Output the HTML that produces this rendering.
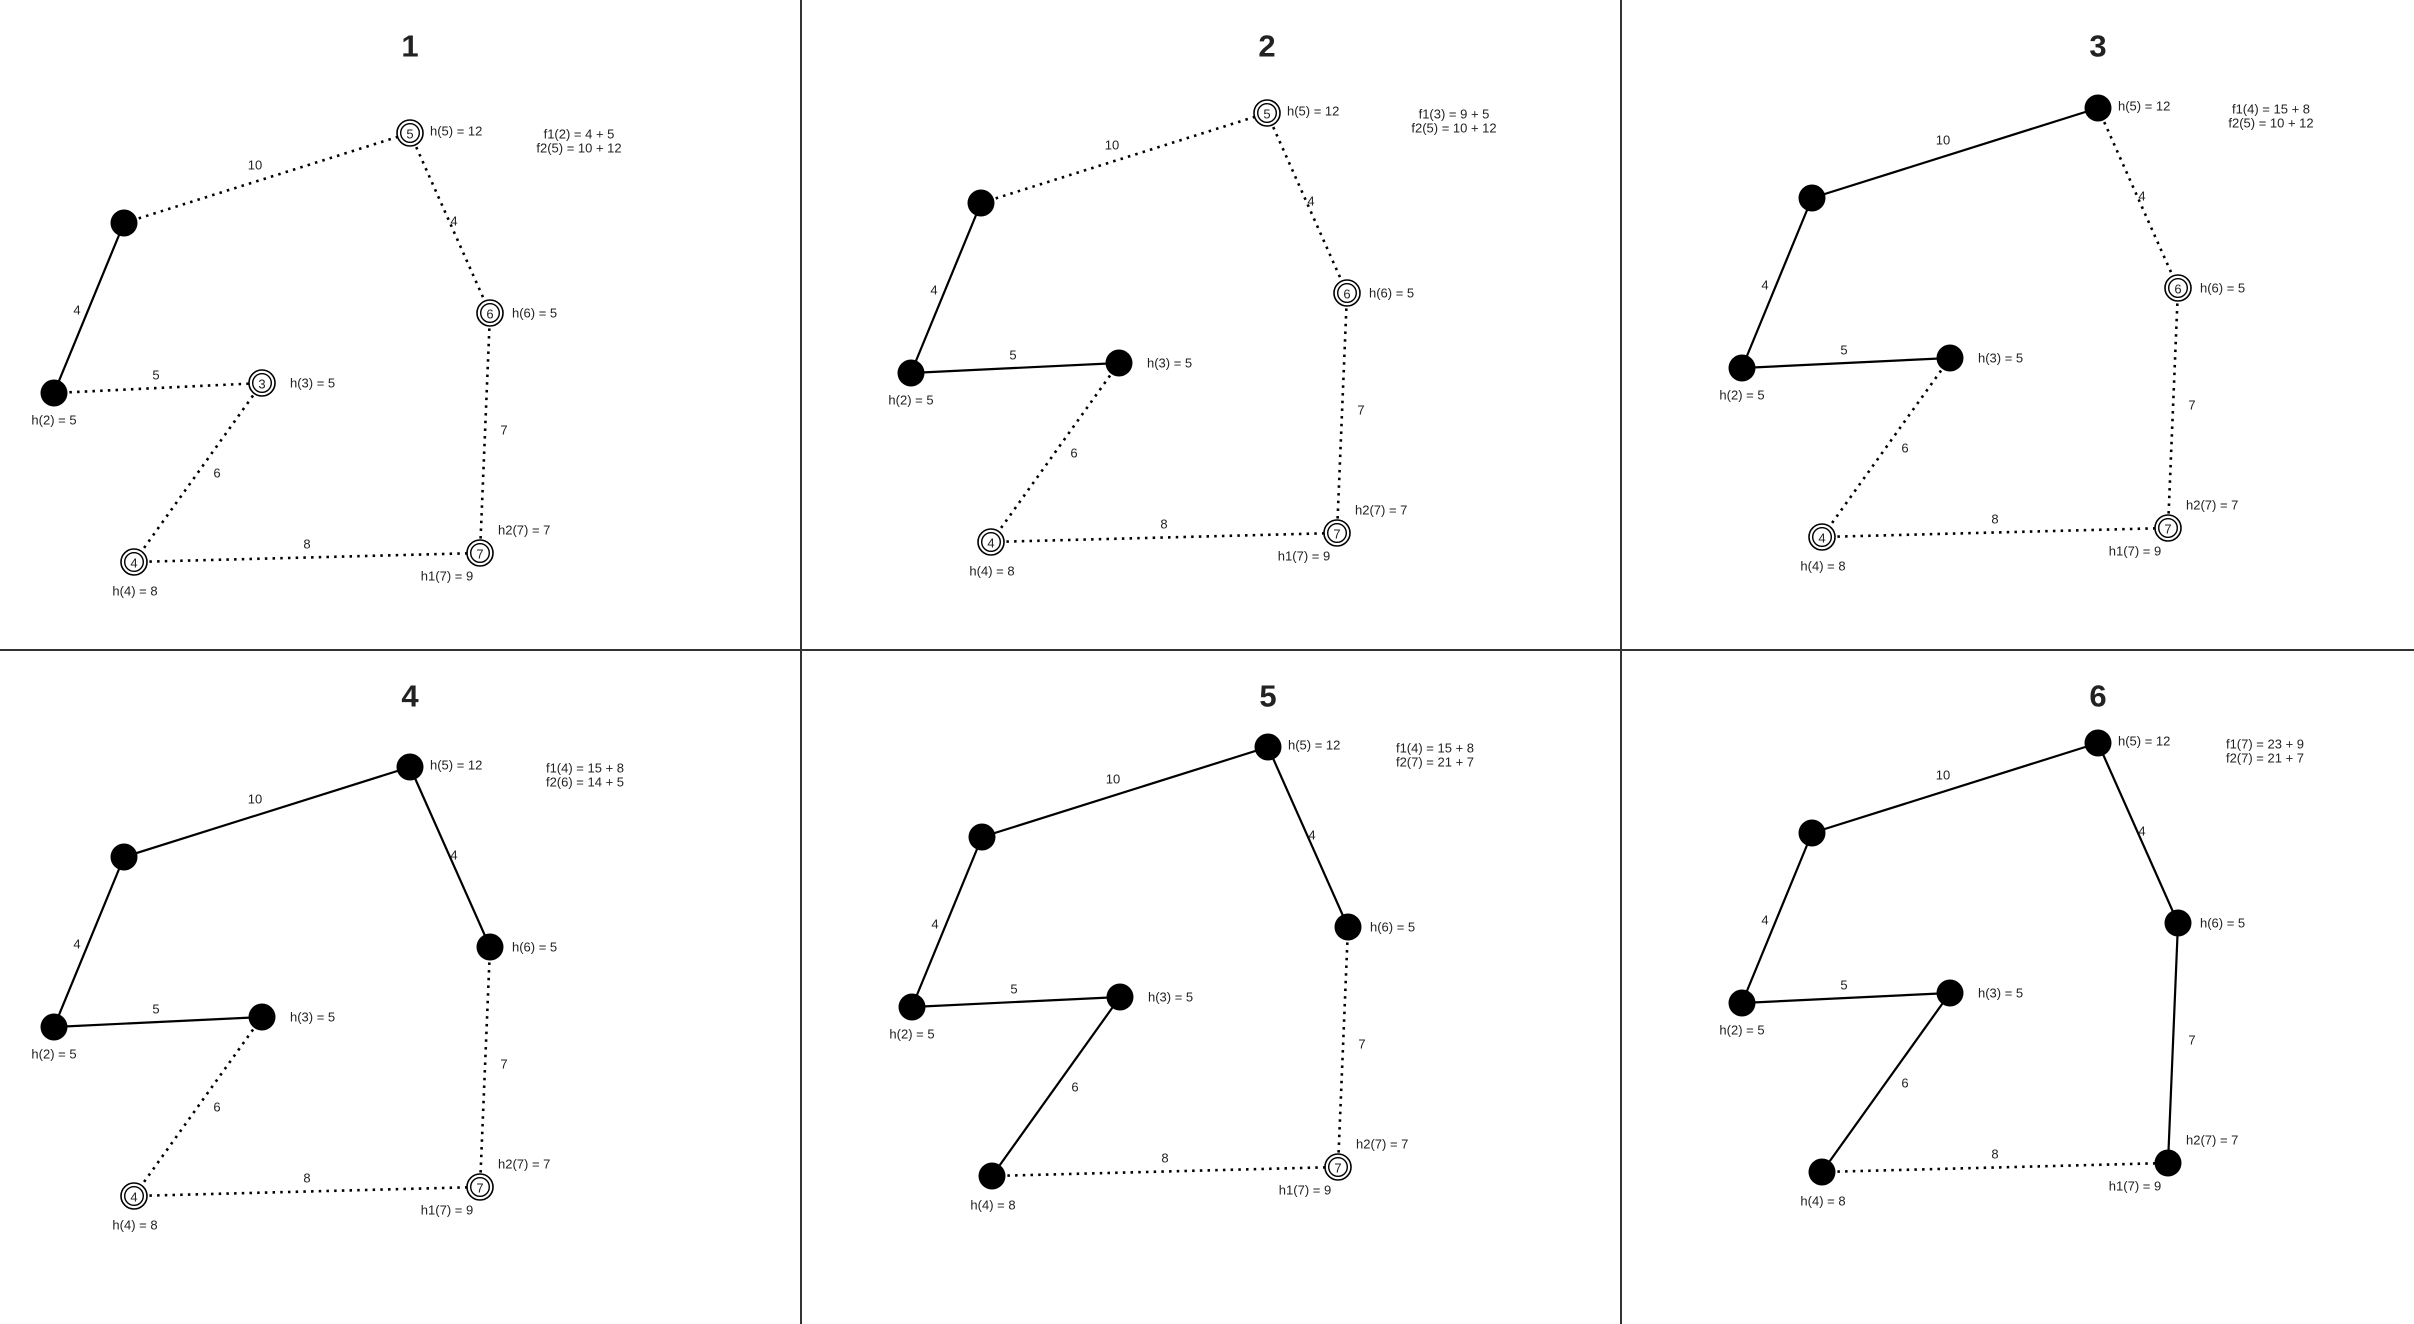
<!DOCTYPE html>
<html><head><meta charset="utf-8"><style>
html,body{margin:0;padding:0;background:#fff;}
svg{display:block;font-family:"Liberation Sans",Arial,sans-serif;}
</style></head><body>
<svg id="chart" width="2414" height="1324" viewBox="0 0 2414 1324" xmlns="http://www.w3.org/2000/svg">
<rect width="2414" height="1324" fill="#fff"/>
<line x1="801" y1="0" x2="801" y2="1324" stroke="#333" stroke-width="2"/>
<line x1="1621" y1="0" x2="1621" y2="1324" stroke="#333" stroke-width="2"/>
<line x1="0" y1="650" x2="2414" y2="650" stroke="#333" stroke-width="2"/>
</svg>
<script>
const nodeIds=[1,2,3,4,5,6,7];
const nodeX=[124,54,262,134,410,490,480];
const nodeY=[223,393,383,562,133,313,553];
const edgeFrom=[1,1,2,3,5,6,4];
const edgeTo=[2,5,3,4,6,7,7];
const edgeWeights=["4","10","5","6","4","7","8"];
const panelTitles=["1","2","3","4","5","6"];
const panelDX=[0,857,1688,0,858,1688];
const panelDY=[0,-20,-25,634,614,610];
const panelTitleY=[46,46,46,696,696,696];
const fLine1=["f1(2) = 4 + 5","f1(3) = 9 + 5","f1(4) = 15 + 8","f1(4) = 15 + 8","f1(4) = 15 + 8","f1(7) = 23 + 9"];
const fLine2=["f2(5) = 10 + 12","f2(5) = 10 + 12","f2(5) = 10 + 12","f2(6) = 14 + 5","f2(7) = 21 + 7","f2(7) = 21 + 7"];
const fTextX=[579,597,583,585,577,577];
const solidEdges=[[0],[0,2],[0,2,1],[0,2,1,4],[0,2,1,4,3],[0,2,1,4,3,5]];
const filledNodes=[[1,2],[1,2,3],[1,2,3,5],[1,2,3,5,6],[1,2,3,5,6,4],[1,2,3,5,6,4,7]];
const NS="http://www.w3.org/2000/svg";
const svg=document.getElementById('chart');
function mk(tag,attrs,parent){const e=document.createElementNS(NS,tag);for(const k in attrs)e.setAttribute(k,attrs[k]);(parent||svg).appendChild(e);return e;}
function txt(s,x,y,anchor,size,weight,parent){const t=mk('text',{x:x,y:y,'text-anchor':anchor,'font-size':size,'font-weight':weight||'normal',fill:'#222','dominant-baseline':'central'},parent);t.textContent=s;return t;}
// label offsets relative to node (not data)
const hLabel={2:["h(2) = 5",0,27,"middle"],3:["h(3) = 5",28,0,"start"],4:["h(4) = 8",1,29,"middle"],5:["h(5) = 12",20,-2,"start"],6:["h(6) = 5",22,0,"start"],7:["h1(7) = 9",-33,23,"middle"]};
const edgeLabelPos=[[77,310],[255,165],[156,375],[217,473],[454,221],[504,430],[307,544]];
panelTitles.forEach((title,p)=>{
  const g=mk('g',{transform:'translate('+panelDX[p]+','+panelDY[p]+')'});
  
  
  const tt=txt(title,410+(panelDX[p]===0?0:0),panelTitleY[p]-panelDY[p],'middle',31,'bold',g);
  
  
  edgeFrom.forEach((a,i)=>{
    const b=edgeTo[i];const solid=solidEdges[p].includes(i);
    const l=mk('line',{x1:nodeX[a-1],y1:nodeY[a-1],x2:nodeX[b-1],y2:nodeY[b-1],stroke:'#000','stroke-width':solid?2.2:2.6,'stroke-dasharray':solid?'none':'2.5 5.2'},g);
    
    
    const el=txt(edgeWeights[i],edgeLabelPos[i][0],edgeLabelPos[i][1],'middle',13,'normal',g);
    
    
  });
  nodeIds.forEach((id,i)=>{
    const x=nodeX[i],y=nodeY[i];
    if(filledNodes[p].includes(id)){
      const c=mk('circle',{cx:x,cy:y,r:13.5,fill:'#000'},g);
      
      
    } else {
      const c=mk('circle',{cx:x,cy:y,r:13,fill:'#fff',stroke:'#000','stroke-width':1.6},g);
      
      
      mk('circle',{cx:x,cy:y,r:9.3,fill:'none',stroke:'#000','stroke-width':1.4},g);
      const n=txt(String(id),x,y+1,'middle',13,'normal',g);
      
      
    }
    if(hLabel[id]){
      const h=hLabel[id];
      const ht=txt(h[0],x+h[1],y+h[2],h[3],13,'normal',g);
      
      
    }
    if(id===7){
      const h2=txt("h2(7) = 7",x+18,y-23,'start',13,'normal',g);
      
      
    }
  });
  const f1=txt(fLine1[p],fTextX[p],134,'middle',13,'normal',g);
  
  
  const f2=txt(fLine2[p],fTextX[p],148,'middle',13,'normal',g);
  
  
});
</script>
</body></html>
